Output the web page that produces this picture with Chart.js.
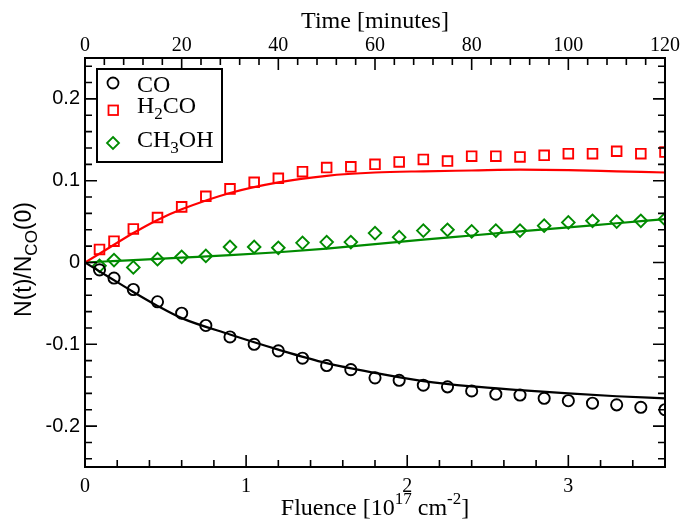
<!DOCTYPE html>
<html>
<head>
<meta charset="utf-8">
<script src="https://cdn.jsdelivr.net/npm/chart.js@4.4.1/dist/chart.umd.min.js"></script>
<style>
  html, body { margin: 0; padding: 0; background: #fff; }
  canvas { display: block; }
</style>
</head>
<body>
<canvas id="fluenceChart" width="681" height="522"></canvas>
<script>
// measured points (fluence in 1e17 cm^-2)
const fluence = [0.09, 0.18, 0.30, 0.45, 0.60, 0.75, 0.90, 1.05, 1.20, 1.35, 1.50, 1.65, 1.80,
                 1.95, 2.10, 2.25, 2.40, 2.55, 2.70, 2.85, 3.00, 3.15, 3.30, 3.45, 3.60];
const coData = [-0.009, -0.019, -0.033, -0.048, -0.062, -0.077, -0.091, -0.100, -0.108, -0.117, -0.126, -0.131, -0.141,
                -0.144, -0.150, -0.152, -0.157, -0.161, -0.162, -0.166, -0.169, -0.172, -0.174, -0.177, -0.180];
const h2coData = [0.016, 0.026, 0.041, 0.055, 0.068, 0.081, 0.090, 0.098, 0.103, 0.111, 0.116, 0.117, 0.120,
                  0.123, 0.126, 0.124, 0.130, 0.130, 0.129, 0.131, 0.133, 0.133, 0.136, 0.133, 0.135];
const ch3ohData = [-0.004, 0.003, -0.006, 0.004, 0.007, 0.008, 0.019, 0.019, 0.018, 0.024, 0.025, 0.025, 0.036,
                   0.031, 0.039, 0.040, 0.038, 0.039, 0.039, 0.045, 0.049, 0.051, 0.050, 0.051, 0.053];

// model curves
const fitX = [0, 0.15, 0.3, 0.45, 0.6, 0.9, 1.2, 1.5, 1.8, 2.1, 2.4, 2.7, 3.0, 3.3, 3.6];
const coFit = [0, -0.018, -0.036, -0.053, -0.068, -0.088, -0.1065, -0.123, -0.135, -0.145, -0.1515, -0.156, -0.160, -0.1635, -0.166];
const h2coFit = [0, 0.018, 0.036, 0.052, 0.065, 0.085, 0.098, 0.106, 0.110, 0.1115, 0.1125, 0.1135, 0.113, 0.1115, 0.110];
const ch3ohFit = [0, 0.0015, 0.003, 0.0045, 0.006, 0.009, 0.0125, 0.017, 0.0225, 0.028, 0.033, 0.038, 0.043, 0.048, 0.053];

// tick labels
const xTicks = [0, 1, 2, 3];
const timeTicks = [0, 20, 40, 60, 80, 100, 120];
const yTicks = [-0.2, -0.1, 0, 0.1, 0.2];

const RED = "#ff0000";
const GREEN = "#008b00";
const SERIF = "Liberation Serif";
const SANS = "Liberation Sans";

function pairs(xs, ys) {
    return xs.map((x, i) => ({ x: x, y: ys[i] }));
}

function fixedTicks(values) {
    return s => { s.ticks = values.map(v => ({ value: v })); };
}

// text with super/subscripts
function drawRich(ctx, parts, x, y, size, family, align) {
    const small = Math.round(size * 0.72);
    let total = 0;
    parts.forEach(p => {
        ctx.font = ((p.sup || p.sub) ? small : size) + "px '" + family + "'";
        p.w = ctx.measureText(p.t).width;
        total += p.w;
    });
    let cx = align === "left" ? x : x - total / 2;
    ctx.textAlign = "left";
    ctx.textBaseline = "alphabetic";
    parts.forEach(p => {
        ctx.font = ((p.sup || p.sub) ? small : size) + "px '" + family + "'";
        const dy = p.sup ? -size * 0.45 : (p.sub ? size * 0.27 : 0);
        ctx.fillText(p.t, cx, y + dy);
        cx += p.w;
    });
}

const framePlugin = {
    id: "frame",
    afterDatasetsDraw(chart) {
        const { ctx, chartArea: a, scales } = chart;
        ctx.save();
        ctx.strokeStyle = "#000";
        ctx.lineWidth = 2;
        ctx.strokeRect(a.left, a.top, a.right - a.left, a.bottom - a.top);

        ctx.lineWidth = 1.6;
        ctx.beginPath();
        for (let i = 0; i <= 18; i++) {
            const px = scales.x.getPixelForValue(i * 0.2);
            const len = i % 5 === 0 ? 12 : 7;
            ctx.moveTo(px, a.bottom);
            ctx.lineTo(px, a.bottom - len);
        }
        for (let t = 0; t <= 120; t += 4) {
            const px = scales.x2.getPixelForValue(t);
            const len = t % 20 === 0 ? 12 : 7;
            ctx.moveTo(px, a.top);
            ctx.lineTo(px, a.top + len);
        }
        for (let i = -12; i <= 12; i++) {
            const py = scales.y.getPixelForValue(i * 0.02);
            const len = i % 5 === 0 ? 12 : 7;
            ctx.moveTo(a.left, py);
            ctx.lineTo(a.left + len, py);
            ctx.moveTo(a.right, py);
            ctx.lineTo(a.right - len, py);
        }
        ctx.stroke();
        ctx.restore();
    },
    afterDraw(chart) {
        const { ctx, chartArea: a } = chart;
        const mid = (a.left + a.right) / 2;
        ctx.save();
        ctx.fillStyle = "#000";

        drawRich(ctx, [{ t: "Time [minutes]" }], mid, 28, 24, SERIF);
        drawRich(ctx, [
            { t: "Fluence [10" }, { t: "17", sup: true }, { t: " cm" }, { t: "-2", sup: true }, { t: "]" }
        ], mid, 515, 24, SERIF);

        ctx.save();
        ctx.translate(31, (a.top + a.bottom) / 2 - 3);
        ctx.rotate(-Math.PI / 2);
        drawRich(ctx, [{ t: "N(t)/N" }, { t: "CO", sub: true }, { t: "(0)" }], 0, 0, 23, SANS);
        ctx.restore();

        // legend box
        ctx.strokeStyle = "#000";
        ctx.lineWidth = 2;
        ctx.strokeRect(97, 69, 125, 93);

        ctx.lineWidth = 1.8;
        ctx.beginPath();
        ctx.arc(113, 83, 5.5, 0, Math.PI * 2);
        ctx.stroke();

        ctx.strokeStyle = RED;
        ctx.strokeRect(108.5, 105.5, 9.5, 9.5);

        ctx.strokeStyle = GREEN;
        ctx.beginPath();
        ctx.moveTo(113, 137);
        ctx.lineTo(119, 143);
        ctx.lineTo(113, 149);
        ctx.lineTo(107, 143);
        ctx.closePath();
        ctx.stroke();

        drawRich(ctx, [{ t: "CO" }], 137, 92, 24, SERIF, "left");
        drawRich(ctx, [{ t: "H" }, { t: "2", sub: true }, { t: "CO" }], 137, 113, 24, SERIF, "left");
        drawRich(ctx, [{ t: "CH" }, { t: "3", sub: true }, { t: "OH" }], 137, 147, 24, SERIF, "left");
        ctx.restore();
    }
};

const ctx = document.getElementById("fluenceChart").getContext("2d");

new Chart(ctx, {
    type: "scatter",
    data: {
        datasets: [
            { label: "CO fit", data: pairs(fitX, coFit), showLine: true, pointRadius: 0,
              borderColor: "#000", borderWidth: 2.2, cubicInterpolationMode: "monotone", order: 0 },
            { label: "H2CO fit", data: pairs(fitX, h2coFit), showLine: true, pointRadius: 0,
              borderColor: RED, borderWidth: 2.2, cubicInterpolationMode: "monotone", order: 0 },
            { label: "CH3OH fit", data: pairs(fitX, ch3ohFit), showLine: true, pointRadius: 0,
              borderColor: GREEN, borderWidth: 2.2, cubicInterpolationMode: "monotone", order: 0 },
            { label: "CO", data: pairs(fluence, coData), pointStyle: "circle", pointRadius: 5.6,
              borderColor: "#000", backgroundColor: "rgba(0,0,0,0)", pointBorderWidth: 1.9, order: 1 },
            { label: "H2CO", data: pairs(fluence, h2coData), pointStyle: "rect", pointRadius: 6.8,
              borderColor: RED, backgroundColor: "rgba(0,0,0,0)", pointBorderWidth: 1.9, order: 1 },
            { label: "CH3OH", data: pairs(fluence, ch3ohData), pointStyle: "rectRot", pointRadius: 6.3,
              borderColor: GREEN, backgroundColor: "rgba(0,0,0,0)", pointBorderWidth: 1.9, order: 1 }
        ]
    },
    options: {
        responsive: false,
        animation: false,
        layout: { padding: { left: 0, right: 16, top: 0, bottom: 0 } },
        plugins: {
            legend: { display: false },
            tooltip: { enabled: false }
        },
        scales: {
            x: {
                type: "linear", position: "bottom", min: 0, max: 3.6,
                grid: { display: false, drawTicks: false }, border: { display: false },
                ticks: { padding: 8, color: "#000", font: { family: SERIF, size: 20 } },
                afterBuildTicks: fixedTicks(xTicks),
                afterFit: s => { s.height = 55; }
            },
            x2: {
                type: "linear", position: "top", min: 0, max: 120,
                grid: { display: false, drawTicks: false }, border: { display: false },
                ticks: { padding: 0, color: "#000", font: { family: SERIF, size: 20 } },
                afterBuildTicks: fixedTicks(timeTicks),
                afterFit: s => { s.height = 58; }
            },
            y: {
                type: "linear", position: "left", min: -0.25, max: 0.25,
                grid: { display: false, drawTicks: false }, border: { display: false },
                ticks: { padding: 5, color: "#000", font: { family: SANS, size: 20 },
                         callback: v => String(v) },
                afterBuildTicks: fixedTicks(yTicks),
                afterFit: s => { s.width = 85; }
            }
        }
    },
    plugins: [framePlugin]
});
</script>
</body>
</html>
